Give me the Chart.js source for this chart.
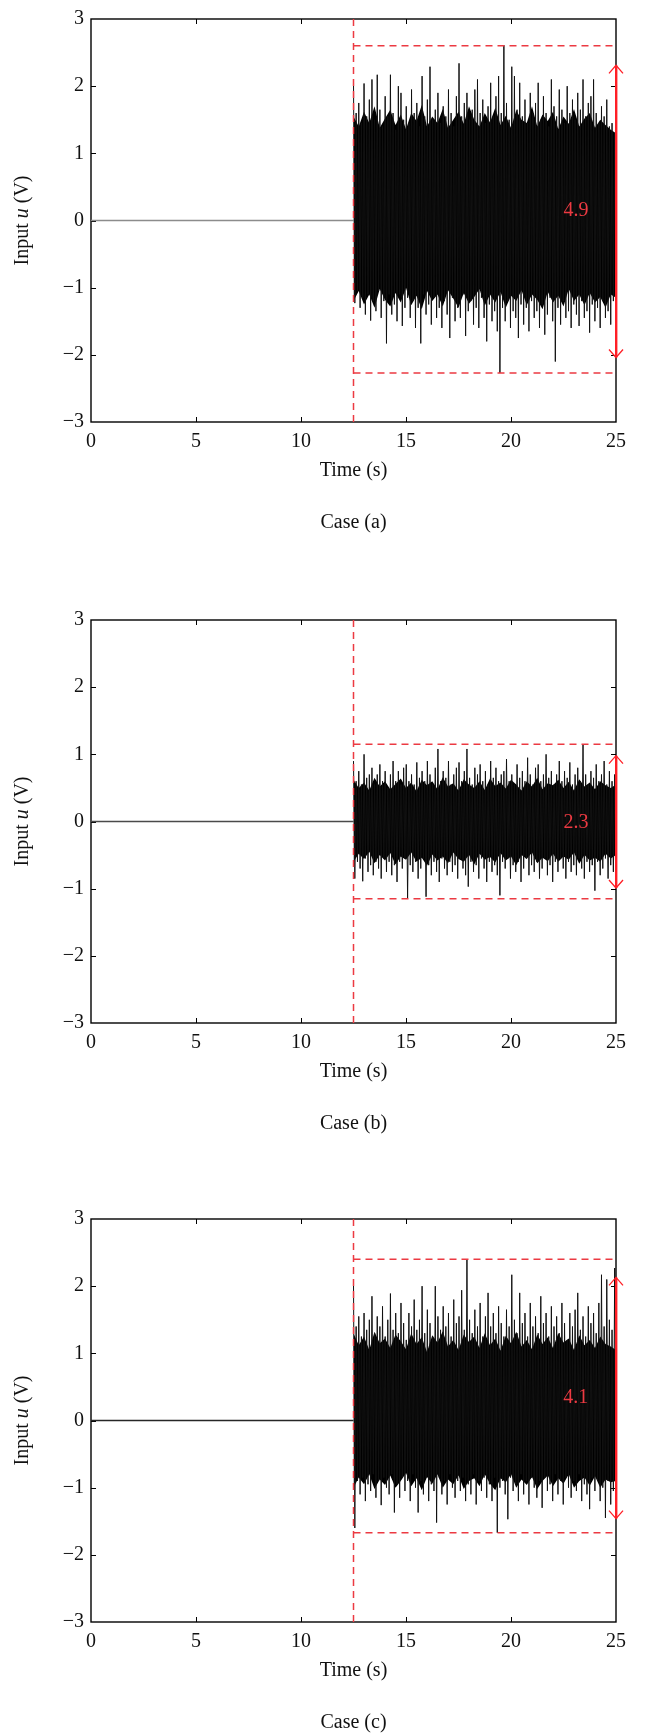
<!DOCTYPE html>
<html>
<head>
<meta charset="utf-8">
<script src="https://cdn.jsdelivr.net/npm/chart.js@4.4.0/dist/chart.umd.min.js"></script>
<style>
  html, body { margin: 0; padding: 0; background: #fff; overflow: hidden; }
  body { width: 651px; height: 1734px; position: relative; }
  .panel { position: absolute; left: 0; width: 651px; height: 536px; }
</style>
</head>
<body>
<div class="panel" style="top:0px"><canvas id="chartA" width="651" height="536"></canvas></div>
<div class="panel" style="top:601px"><canvas id="chartB" width="651" height="536"></canvas></div>
<div class="panel" style="top:1200px"><canvas id="chartC" width="651" height="536"></canvas></div>
<script>
// axes
const xTicks = [0, 5, 10, 15, 20, 25];
const yTicks = [-3, -2, -1, 0, 1, 2, 3];
const stepTime = 12.5;
const endTime = 25;

// Case (a): peaks and troughs of the input
const aUpper = [2.08, 1.6, 1.75, 1.45, 2.04, 1.55, 1.8, 2.1, 1.5, 2.17,
  1.65, 1.4, 1.85, 1.55, 2.17, 1.6, 1.35, 2.0, 1.9, 1.5,
  1.7, 1.45, 1.95, 1.6, 1.75, 1.4, 2.15, 1.55, 1.8, 2.29,
  1.5, 1.65, 1.9, 1.45, 1.7, 1.55, 1.95, 1.6, 1.4, 1.85,
  2.34, 1.55, 1.75, 1.9, 1.5, 1.65, 1.95, 2.1, 1.6, 1.8,
  1.45, 1.7, 2.05, 1.55, 1.85, 2.15, 1.6, 2.61, 1.75, 1.5,
  2.29, 2.15, 1.65, 2.05, 1.55, 1.8, 1.45, 1.9, 1.6, 1.75,
  2.05, 1.5, 1.85, 1.6, 1.4, 2.1, 1.7, 1.55, 1.95, 1.65,
  1.45, 2.0, 1.6, 1.8, 1.5, 1.9, 1.65, 2.1, 1.55, 1.75,
  1.85, 2.1, 1.6, 1.45, 1.7, 1.55, 1.8, 1.4, 1.45, 1.3];
const aLower = [-1.23, -1.05, -1.3, -1.15, -1.4, -1.1, -1.49, -1.2, -1.35, -1.05,
  -1.45, -1.2, -1.83, -1.1, -1.4, -1.25, -1.5, -1.1, -1.57, -1.3,
  -1.15, -1.45, -1.2, -1.6, -1.3, -1.83, -1.1, -1.4, -1.25, -1.55,
  -1.15, -1.45, -1.3, -1.6, -1.2, -1.4, -1.75, -1.15, -1.5, -1.3,
  -1.45, -1.1, -1.72, -1.35, -1.2, -1.55, -1.3, -1.6, -1.15, -1.45,
  -1.8, -1.25, -1.5, -1.35, -1.65, -2.27, -1.3, -1.5, -1.2, -1.6,
  -1.35, -1.45, -1.75, -1.25, -1.55, -1.3, -1.65, -1.2, -1.45, -1.35,
  -1.6, -1.25, -1.7, -1.4, -1.15, -1.5, -2.1, -1.3, -1.55, -1.2,
  -1.45, -1.35, -1.6, -1.25, -1.4, -1.57, -1.2, -1.45, -1.35, -1.67,
  -1.25, -1.5, -1.3, -1.6, -1.2, -1.45, -1.35, -1.55, -1.2, -1.28];
// edges of the solid black core, every 0.25 s
const aCoreTop = [1.55, 1.4, 1.62, 1.45, 1.7, 1.38, 1.52, 1.65, 1.42, 1.58,
  1.36, 1.6, 1.48, 1.72, 1.4, 1.55, 1.45, 1.66, 1.38, 1.5,
  1.62, 1.44, 1.7, 1.5, 1.4, 1.6, 1.46, 1.68, 1.42, 1.56,
  1.38, 1.64, 1.5, 1.45, 1.7, 1.4, 1.58, 1.48, 1.62, 1.36,
  1.55, 1.44, 1.66, 1.4, 1.52, 1.6, 1.38, 1.5, 1.42, 1.35, 1.3];
const aCoreBottom = [-1.2, -1.05, -1.25, -1.1, -1.3, -1.02, -1.18, -1.28, -1.08, -1.22,
  -1.0, -1.26, -1.12, -1.32, -1.05, -1.2, -1.1, -1.28, -1.04, -1.16,
  -1.3, -1.08, -1.24, -1.14, -1.02, -1.27, -1.1, -1.22, -1.06, -1.3,
  -1.12, -1.2, -1.04, -1.26, -1.1, -1.18, -1.32, -1.06, -1.22, -1.12,
  -1.28, -1.02, -1.2, -1.1, -1.26, -1.08, -1.22, -1.14, -1.3, -1.1, -1.15];
const aBand = [2.6, -2.27];
const aArrow = [2.31, -2.04];
const aSpread = { text: '4.9', x: 23.1, y: 0.15 };

// Case (b)
const bUpper = [0.9, 0.6, 0.75, 0.55, 1.0, 0.65, 0.7, 0.8, 0.55, 0.7,
  0.85, 0.6, 0.75, 0.5, 0.7, 0.9, 0.6, 0.75, 0.55, 0.8,
  0.85, 0.6, 0.7, 0.55, 0.88, 0.65, 0.75, 0.6, 0.9, 0.7,
  0.55, 0.8, 1.08, 0.6, 0.75, 0.65, 0.9, 0.55, 0.7, 0.8,
  0.88, 0.6, 0.75, 1.08, 0.65, 0.55, 0.8, 0.7, 0.85, 0.6,
  0.75, 0.55, 0.9, 0.65, 0.8, 0.6, 0.7, 0.75, 0.93, 0.6,
  0.7, 0.55, 0.85, 0.65, 0.75, 0.6, 0.95, 0.7, 0.55, 0.8,
  0.85, 0.6, 0.7, 1.0, 0.65, 0.75, 0.55, 0.7, 0.9, 0.6,
  0.75, 0.65, 0.88, 0.55, 0.7, 0.8, 0.6, 1.14, 0.7, 0.55,
  0.75, 0.65, 0.85, 0.6, 0.7, 0.9, 0.55, 0.75, 0.6, 0.7];
const bLower = [-0.85, -0.6, -0.7, -0.89, -0.55, -0.75, -0.65, -0.8, -0.6, -0.7,
  -0.85, -0.55, -0.75, -0.6, -0.8, -0.65, -0.9, -0.6, -0.7, -0.55,
  -1.14, -0.65, -0.75, -0.6, -0.85, -0.7, -0.55, -1.12, -0.65, -0.8,
  -0.6, -0.75, -0.9, -0.55, -0.7, -0.8, -0.6, -0.75, -0.65, -0.85,
  -0.55, -0.7, -0.8, -0.97, -0.6, -0.75, -0.65, -0.85, -0.55, -0.7,
  -0.9, -0.6, -0.75, -0.65, -0.8, -1.1, -0.6, -0.7, -0.55, -0.85,
  -0.65, -0.75, -0.6, -0.9, -0.7, -0.55, -0.8, -0.65, -0.75, -0.6,
  -0.85, -0.7, -0.55, -0.8, -0.65, -0.9, -0.6, -0.75, -0.55, -0.7,
  -0.85, -0.6, -0.75, -0.65, -0.8, -0.55, -0.7, -0.85, -0.6, -0.75,
  -0.65, -1.03, -0.6, -0.8, -0.7, -0.55, -0.85, -0.65, -0.75, -0.6];
const bCoreTop = [0.62, 0.5, 0.58, 0.46, 0.65, 0.52, 0.6, 0.48, 0.56, 0.64,
  0.5, 0.58, 0.45, 0.62, 0.54, 0.6, 0.48, 0.66, 0.52, 0.57,
  0.46, 0.63, 0.55, 0.5, 0.6, 0.47, 0.64, 0.53, 0.58, 0.49,
  0.62, 0.55, 0.46, 0.6, 0.52, 0.65, 0.48, 0.57, 0.54, 0.62,
  0.5, 0.59, 0.46, 0.63, 0.52, 0.58, 0.48, 0.6, 0.54, 0.5, 0.55];
const bCoreBottom = [-0.6, -0.48, -0.56, -0.45, -0.62, -0.5, -0.58, -0.47, -0.64, -0.52,
  -0.57, -0.46, -0.6, -0.54, -0.66, -0.49, -0.58, -0.52, -0.62, -0.46,
  -0.56, -0.6, -0.5, -0.64, -0.48, -0.57, -0.53, -0.61, -0.47, -0.58,
  -0.52, -0.65, -0.5, -0.56, -0.46, -0.62, -0.54, -0.59, -0.48, -0.6,
  -0.52, -0.57, -0.46, -0.63, -0.5, -0.58, -0.54, -0.6, -0.48, -0.55, -0.5];
const bBand = [1.15, -1.15];
const bArrow = [0.98, -0.99];
const bSpread = { text: '2.3', x: 23.1, y: -0.02 };

// Case (c)
const cUpper = [2.06, 1.4, 1.55, 1.25, 1.6, 1.35, 1.5, 1.85, 1.3, 1.55,
  1.4, 1.7, 1.25, 1.5, 1.89, 1.35, 1.6, 1.3, 1.75, 1.45,
  1.2, 1.6, 1.4, 1.8, 1.35, 1.5, 2.0, 1.3, 1.65, 1.45,
  1.25, 2.0, 1.55, 1.35, 1.7, 1.4, 1.6, 1.25, 1.8, 1.45,
  1.55, 1.94, 1.35, 2.39, 1.5, 1.3, 1.65, 1.4, 1.75, 1.25,
  1.55, 1.9, 1.4, 1.6, 1.3, 1.7, 1.45, 1.25, 1.65, 1.4,
  2.17, 1.5, 1.3, 1.9, 1.45, 1.6, 1.25, 1.75, 1.4, 1.55,
  1.3, 1.85, 1.45, 1.6, 1.25, 1.7, 1.4, 1.55, 1.3, 1.75,
  1.45, 1.2, 1.6, 1.4, 1.65, 1.9, 1.35, 1.55, 1.25, 1.7,
  1.45, 1.6, 1.3, 1.75, 2.17, 1.4, 2.1, 1.5, 1.35, 2.27];
const cLower = [-1.6, -0.9, -1.1, -0.85, -1.2, -0.95, -1.05, -0.8, -1.15, -0.9,
  -1.26, -0.85, -1.0, -1.1, -0.8, -1.37, -0.95, -1.15, -0.85, -1.05,
  -0.9, -1.2, -0.8, -1.0, -1.37, -0.9, -1.1, -0.85, -1.2, -0.95,
  -1.05, -1.52, -0.85, -1.1, -0.9, -1.25, -0.8, -1.0, -1.15, -0.9,
  -1.05, -0.85, -1.2, -0.95, -1.1, -0.8, -1.25, -0.9, -1.05, -0.85,
  -1.15, -0.95, -1.2, -0.85, -1.67, -1.0, -0.9, -1.1, -1.47, -0.85,
  -1.05, -0.95, -1.2, -0.8, -1.1, -0.9, -1.25, -0.85, -1.0, -1.15,
  -0.9, -1.3, -0.85, -1.05, -0.95, -1.2, -0.8, -1.1, -0.9, -1.25,
  -0.85, -1.0, -1.15, -0.9, -1.05, -0.8, -1.2, -0.95, -1.1, -1.32,
  -0.85, -1.05, -0.9, -1.2, -1.0, -1.45, -0.9, -1.25, -1.05, -1.15];
const cCoreTop = [1.3, 1.12, 1.25, 1.05, 1.32, 1.15, 1.22, 1.08, 1.28, 1.18,
  1.06, 1.3, 1.14, 1.24, 1.02, 1.27, 1.16, 1.33, 1.1, 1.2,
  1.05, 1.28, 1.17, 1.25, 1.08, 1.3, 1.12, 1.22, 1.04, 1.26,
  1.15, 1.32, 1.1, 1.2, 1.06, 1.28, 1.14, 1.24, 1.08, 1.3,
  1.16, 1.22, 1.05, 1.27, 1.12, 1.2, 1.08, 1.25, 1.14, 1.1, 1.05];
const cCoreBottom = [-1.0, -0.85, -0.95, -0.8, -1.02, -0.88, -0.96, -0.82, -1.0, -0.9,
  -0.78, -0.98, -0.86, -1.04, -0.84, -0.94, -0.8, -1.0, -0.88, -0.95,
  -0.82, -1.02, -0.9, -0.86, -0.98, -0.8, -0.94, -1.04, -0.86, -0.92,
  -0.8, -1.0, -0.88, -0.96, -0.84, -1.02, -0.9, -0.82, -0.98, -0.86,
  -0.94, -0.8, -1.0, -0.9, -0.85, -0.97, -0.83, -1.0, -0.88, -0.92, -0.9];
const cBand = [2.40, -1.67];
const cArrow = [2.13, -1.46];
const cSpread = { text: '4.1', x: 23.08, y: 0.345 };

const FONT = "'Liberation Serif', 'Times New Roman', serif";
const RED = '#ec3a42';
const ARROW_RED = '#ff1f26';

// sample times of the noise: alternate peak / trough from the step on
function noisePoints(upper, lower) {
    const n = upper.length * 2;
    const dt = (endTime - stepTime) / (n - 1);
    const pts = [];
    upper.forEach((u, i) => {
        pts.push({ x: stepTime + 2 * i * dt, y: u });
        pts.push({ x: stepTime + (2 * i + 1) * dt, y: lower[i] });
    });
    return pts;
}

function corePoints(values) {
    const dt = (endTime - stepTime) / (values.length - 1);
    return values.map((v, i) => ({ x: stepTime + i * dt, y: v }));
}

function makePanel(id, upper, lower, coreTop, coreBottom, band, arrow, spread, zeroColor, caption) {
    // box around the axes with inward ticks, matlab style
    const framePlugin = {
        id: 'frame',
        beforeDatasetsDraw(chart) {
            const { ctx, chartArea: a, scales } = chart;
            ctx.save();
            ctx.strokeStyle = '#000';
            ctx.lineWidth = 1.4;
            ctx.strokeRect(a.left, a.top, a.right - a.left, a.bottom - a.top);
            ctx.lineWidth = 1;
            ctx.beginPath();
            xTicks.slice(1, -1).forEach(v => {
                const px = Math.round(scales.x.getPixelForValue(v)) + 0.5;
                ctx.moveTo(px, a.bottom); ctx.lineTo(px, a.bottom - 5);
                ctx.moveTo(px, a.top); ctx.lineTo(px, a.top + 5);
            });
            yTicks.slice(1, -1).forEach(v => {
                const py = Math.round(scales.y.getPixelForValue(v)) + 0.5;
                ctx.moveTo(a.left, py); ctx.lineTo(a.left + 5, py);
                ctx.moveTo(a.right, py); ctx.lineTo(a.right - 5, py);
            });
            ctx.stroke();
            ctx.restore();
        }
    };

    // double arrow on the right edge, spread label and y title
    const marksPlugin = {
        id: 'marks',
        afterDraw(chart) {
            const { ctx, chartArea: a, scales } = chart;
            const px = Math.round(scales.x.getPixelForValue(endTime));
            const pTop = scales.y.getPixelForValue(arrow[0]);
            const pBot = scales.y.getPixelForValue(arrow[1]);
            ctx.save();
            ctx.fillStyle = ARROW_RED;
            ctx.fillRect(px - 1, pTop, 2.4, pBot - pTop);
            ctx.strokeStyle = ARROW_RED;
            ctx.lineWidth = 1.3;
            ctx.beginPath();
            ctx.moveTo(px - 7, pTop + 8); ctx.lineTo(px, pTop); ctx.lineTo(px + 7, pTop + 8);
            ctx.moveTo(px - 7, pBot - 8); ctx.lineTo(px, pBot); ctx.lineTo(px + 7, pBot - 8);
            ctx.stroke();

            ctx.fillStyle = RED;
            ctx.font = '20px ' + FONT;
            ctx.textAlign = 'center';
            ctx.textBaseline = 'middle';
            ctx.fillText(spread.text, scales.x.getPixelForValue(spread.x), scales.y.getPixelForValue(spread.y));

            // "Input u (V)" with italic u
            const parts = [['Input ', 'normal'], ['u', 'italic'], [' (V)', 'normal']];
            let total = 0;
            parts.forEach(p => { ctx.font = p[1] + ' 20px ' + FONT; total += ctx.measureText(p[0]).width; });
            ctx.translate(23, (a.top + a.bottom) / 2);
            ctx.rotate(-Math.PI / 2);
            ctx.fillStyle = '#111';
            ctx.textAlign = 'left';
            let cx = -total / 2;
            parts.forEach(p => {
                ctx.font = p[1] + ' 20px ' + FONT;
                ctx.fillText(p[0], cx, 0);
                cx += ctx.measureText(p[0]).width;
            });
            ctx.restore();
        }
    };

    const redLine = pts => ({
        data: pts,
        borderColor: RED,
        borderWidth: 1.5,
        borderDash: [7, 5],
        showLine: true,
        pointRadius: 0,
        order: 0
    });

    new Chart(document.getElementById(id), {
        type: 'scatter',
        data: {
            datasets: [
                {
                    data: [{ x: 0, y: 0 }, { x: stepTime, y: 0 }],
                    borderColor: zeroColor,
                    borderWidth: 1.5,
                    showLine: true,
                    pointRadius: 0,
                    order: 3
                },
                {
                    data: corePoints(coreTop),
                    borderWidth: 0,
                    borderColor: 'rgba(0,0,0,0)',
                    backgroundColor: '#000',
                    showLine: true,
                    pointRadius: 0,
                    fill: '+1',
                    order: 2
                },
                {
                    data: corePoints(coreBottom),
                    borderWidth: 0,
                    borderColor: 'rgba(0,0,0,0)',
                    showLine: true,
                    pointRadius: 0,
                    order: 2
                },
                {
                    data: noisePoints(upper, lower),
                    borderColor: '#111',
                    borderWidth: 1,
                    showLine: true,
                    pointRadius: 0,
                    order: 1
                },
                redLine([{ x: stepTime, y: -3 }, { x: stepTime, y: 3 }]),
                redLine([{ x: stepTime, y: band[0] }, { x: endTime, y: band[0] }]),
                redLine([{ x: stepTime, y: band[1] }, { x: endTime, y: band[1] }])
            ]
        },
        options: {
            responsive: false,
            animation: false,
            devicePixelRatio: 1,
            layout: { padding: { top: 8, right: 35, left: 0, bottom: 0 } },
            plugins: { legend: { display: false }, tooltip: { enabled: false } },
            scales: {
                x: {
                    type: 'linear',
                    min: 0,
                    max: 25,
                    afterBuildTicks: s => { s.ticks = xTicks.map(v => ({ value: v })); },
                    afterFit: s => { s.height = 114; },
                    grid: { display: false, drawTicks: false },
                    border: { display: false },
                    ticks: { color: '#111', font: { family: FONT, size: 20 }, padding: 8, maxRotation: 0, autoSkip: false },
                    title: {
                        display: true,
                        text: ['Time (s)', '', caption],
                        color: '#111',
                        font: { family: FONT, size: 20, lineHeight: 1.3 },
                        padding: { top: 0, bottom: 0 }
                    }
                },
                y: {
                    type: 'linear',
                    min: -3,
                    max: 3,
                    afterBuildTicks: s => { s.ticks = yTicks.map(v => ({ value: v })); },
                    afterFit: s => { s.width = 91; },
                    grid: { display: false, drawTicks: false },
                    border: { display: false },
                    ticks: {
                        color: '#111',
                        font: { family: FONT, size: 20 },
                        padding: 7,
                        callback: v => String(v).replace('-', '\u2212')
                    }
                }
            }
        },
        plugins: [framePlugin, marksPlugin]
    });
}

makePanel('chartA', aUpper, aLower, aCoreTop, aCoreBottom, aBand, aArrow, aSpread, '#8c8c8c', 'Case (a)');
makePanel('chartB', bUpper, bLower, bCoreTop, bCoreBottom, bBand, bArrow, bSpread, '#4a4a4a', 'Case (b)');
makePanel('chartC', cUpper, cLower, cCoreTop, cCoreBottom, cBand, cArrow, cSpread, '#262626', 'Case (c)');
</script>
</body>
</html>
